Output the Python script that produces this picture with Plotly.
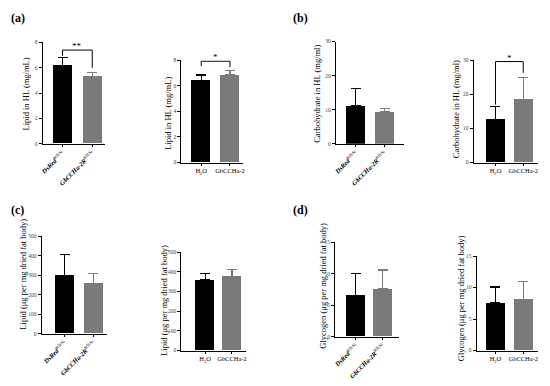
import plotly.graph_objects as go

# the page body adds an 8px margin, so the figure is drawn 8px smaller and offset
OFF = 8
W, H = 550 - OFF, 386 - OFF

rnai_labels = ["<b><i>DsRed</i></b><sup>RNAi</sup>", "<b><i>GbCCHa-2R</i></b><sup>RNAi</sup>"]
inj_labels = ["H<sub>2</sub>O", "GbCCHa-2"]

# values (mean) and upper error (SD) per panel
a1_mean = [6.15, 5.3];   a1_err = [0.65, 0.35]
a2_mean = [6.4, 6.85];   a2_err = [0.45, 0.35]
b1_mean = [11.2, 9.5];   b1_err = [5.0, 0.8]
b2_mean = [12.7, 18.5];  b2_err = [3.8, 6.5]
c1_mean = [300, 258];    c1_err = [105, 52]
c2_mean = [358, 378];    c2_err = [32, 32]
d1_mean = [6.6, 7.6];    d1_err = [3.5, 3.0]
d2_mean = [7.6, 8.1];    d2_err = [2.5, 2.9]

ticks_8 = [0, 2, 4, 6, 8]
ticks_30 = [0, 10, 20, 30]
ticks_500 = [0, 100, 200, 300, 400, 500]
ticks_15 = [0, 5, 10, 15]

y_titles = {
    "a": "Lipid in HL (mg/mL)",
    "b": "Carbohydrate in HL (mg/ml)",
    "c": "Lipid (μg per mg dried fat body)",
    "d": "Glycogen (μg per mg dried fat body)",
}

colors = ["#000000", "#7a7a7a"]
FONT = "Liberation Serif"


def px(p):
    return (p - OFF) / W


def py(p):
    return 1 - (p - OFF) / H


# panel layout: (mean, err, labels, yticks, xl, c0, c1, xr, yt, yb, title, title_x, title_y)
panels = [
    (a1_mean, a1_err, rnai_labels, ticks_8, 40, 60, 90, 103, 40, 143, y_titles["a"], 23, 92),
    (a2_mean, a2_err, inj_labels, ticks_8, 180, 200, 229, 242, 58, 162, y_titles["a"], 167, 112),
    (b1_mean, b1_err, rnai_labels, ticks_30, 336, 356, 385, 405, 39, 143, y_titles["b"], 317, 92),
    (b2_mean, b2_err, inj_labels, ticks_30, 475, 497, 525, 540, 58, 162, y_titles["b"], 458, 108),
    (c1_mean, c1_err, rnai_labels, ticks_500, 39, 62, 91, 105, 237, 336, y_titles["c"], 20, 275),
    (c2_mean, c2_err, inj_labels, ticks_500, 180, 204, 231, 245, 253, 353, y_titles["c"], 163, 302),
    (d1_mean, d1_err, rnai_labels, ticks_15, 335, 356, 383, 400, 243, 339, y_titles["d"], 322, 287),
    (d2_mean, d2_err, inj_labels, ticks_15, 478, 497, 525, 540, 257, 353, y_titles["d"], 463, 300),
]

fig = go.Figure()
layout = dict(width=W, height=H, margin=dict(l=0, r=0, t=0, b=0),
              paper_bgcolor="white", plot_bgcolor="white", showlegend=False,
              font=dict(family=FONT, color="black"))
annotations = []
shapes = []

for i, (mean, err, labels, yticks, xl, c0, c1, xr, yt, yb, title, tx, ty) in enumerate(panels):
    n = i + 1
    sfx = "" if n == 1 else str(n)
    s = c1 - c0
    rng = [-(c0 - xl) / s, 1 + (xr - c1) / s]
    bw = 19 / s
    for j in range(2):
        fig.add_trace(go.Bar(
            x=[j], y=[mean[j]], width=bw,
            marker=dict(color=colors[j], line=dict(width=0)),
            error_y=dict(type="data", symmetric=False, array=[err[j]], arrayminus=[0],
                         color=colors[j], thickness=1.2, width=5),
            xaxis="x" + sfx, yaxis="y" + sfx,
        ))
    rnai = labels is rnai_labels
    layout["xaxis" + sfx] = dict(
        domain=[px(xl), px(xr)], range=rng, anchor="y" + sfx,
        tickmode="array", tickvals=[0, 1], ticktext=labels,
        tickangle=-45 if rnai else 0,
        tickfont=dict(size=6.5 if rnai else 6.5, family=FONT, color="black"),
        showline=True, linecolor="black", linewidth=1,
        ticks="outside", ticklen=2, tickcolor="black", showgrid=False, zeroline=False,
        fixedrange=True,
    )
    layout["yaxis" + sfx] = dict(
        domain=[py(yb), py(yt)], range=[0, yticks[-1]], anchor="x" + sfx,
        tickmode="array", tickvals=yticks, ticktext=[str(v) for v in yticks],
        showticklabels=True,
        tickfont=dict(size=5.5, family=FONT, color="#444"),
        showline=True, linecolor="black", linewidth=1,
        ticks="outside", ticklen=3, tickcolor="black", showgrid=False, zeroline=False,
    )
    annotations.append(dict(text=title, textangle=-90, x=px(tx), y=py(ty),
                            xref="paper", yref="paper", showarrow=False,
                            font=dict(size=8.5, family=FONT, color="black"),
                            xanchor="center", yanchor="middle"))

# significance brackets
brackets = [
    # (axis suffix, y bracket, left end, right end, label)
    ("", 7.4, 6.95, 6.0, "**"),
    ("2", 7.92, 7.55, 7.45, "*"),
    ("4", 29.6, 17.0, 26.3, "*"),
]
for sfx, yb_, yl, yr, lab in brackets:
    xr_ = "x" + sfx
    yr_ = "y" + sfx
    path = f"M 0 {yl} L 0 {yb_} L 1 {yb_} L 1 {yr}"
    shapes.append(dict(type="path", path=path, xref=xr_, yref=yr_,
                       line=dict(color="black", width=1)))
    annotations.append(dict(text=lab, x=0.5, y=yb_, xref=xr_, yref=yr_, showarrow=False,
                            yanchor="bottom", yshift=-3,
                            font=dict(size=9, family=FONT, color="black")))

# panel letters
for lab, lx, ly in [("(a)", 15, 15), ("(b)", 300, 15), ("(c)", 15, 210), ("(d)", 300, 210)]:
    annotations.append(dict(text=f"<b>{lab}</b>", x=px(lx), y=py(ly), xref="paper", yref="paper",
                            showarrow=False, xanchor="center", yanchor="middle",
                            font=dict(size=12, family=FONT, color="black")))

layout["annotations"] = annotations
layout["shapes"] = shapes
layout["bargap"] = 0
fig.update_layout(**layout)
fig.write_html("out.html")
